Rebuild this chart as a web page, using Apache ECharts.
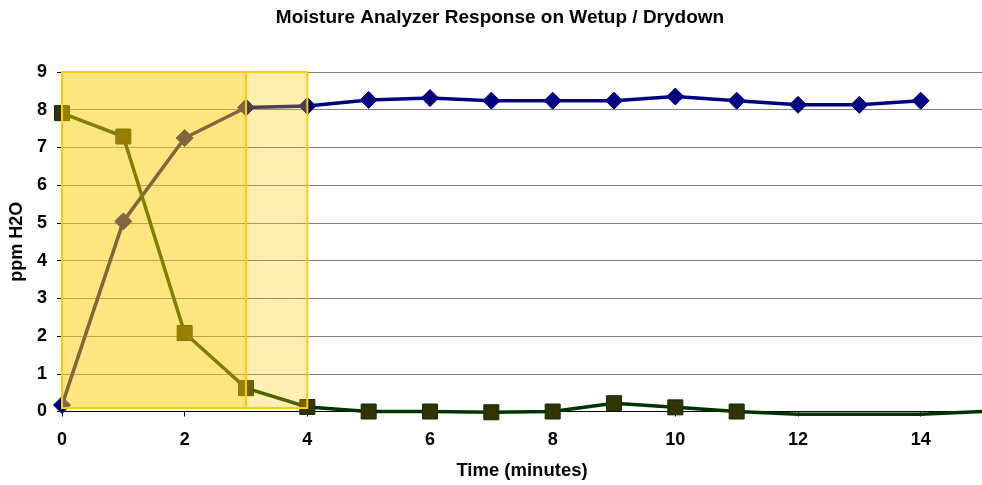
<!DOCTYPE html>
<html>
<head>
<meta charset="utf-8">
<script src="https://cdn.jsdelivr.net/npm/echarts@6/dist/echarts.min.js"></script>
<style>html,body{margin:0;padding:0;background:#fff;}#c{width:982px;height:485px;}</style>
</head>
<body>
<div id="c"></div>
<script>
const minutes = [0,1,2,3,4,5,6,7,8,9,10,11,12,13,14,15];
const wetup = [0.17,5.04,7.25,8.06,8.10,8.26,8.31,8.24,8.24,8.24,8.35,8.24,8.13,8.13,8.24,null];
const drydown = [7.91,7.29,2.08,0.62,0.12,0.00,0.00,-0.02,0.00,0.22,0.11,0.00,-0.07,-0.07,-0.07,0.00];
const drydownMarkerLast = 11; // no markers after minute 11
const shadeBands = [[0,3],[3,4]];
const shadeBottom = 0.09, shadeTop = 9.06;
const xTicks = [0,2,4,6,8,10,12,14];
const yTicks = [0,1,2,3,4,5,6,7,8,9];

const FONT = '"Liberation Sans", Arial, sans-serif';
const chart = echarts.init(document.getElementById('c'), null, {renderer:'canvas'});

const wetData = minutes.map((m,i)=> wetup[i]==null ? null : [m, wetup[i]]).filter(d=>d);
const dryData = minutes.map((m,i)=> {
  const d = {value:[m, drydown[i]]};
  if (m > drydownMarkerLast) d.symbol = 'none';
  return d;
});

chart.setOption({
  animation:false,
  graphic:[{type:'text', x:500, y:8, style:{text:'Moisture Analyzer Response on Wetup / Drydown', font:'bold 19px '+FONT, fill:'#000', textAlign:'center'}}],
  grid:{left:62, right:0, top:72, bottom:73.5, outerBoundsMode:'none', containLabel:false},
  xAxis:{type:'value', min:0, max:15, interval:2,
    name:'Time (minutes)', nameLocation:'middle', nameGap:50,
    nameTextStyle:{fontFamily:FONT, fontWeight:'bold', fontSize:18.5, color:'#000'},
    axisLine:{show:true, onZero:false, lineStyle:{color:'#000', width:1}},
    axisTick:{show:true, length:5, lineStyle:{color:'#000'}},
    axisLabel:{margin:20, fontFamily:FONT, fontWeight:'bold', fontSize:18, color:'#000',
      formatter:v=> xTicks.includes(v) ? String(v) : ''},
    splitLine:{show:false}},
  yAxis:{type:'value', min:0, max:9, interval:1,
    name:'ppm H2O', nameLocation:'middle', nameGap:33, nameRotate:90,
    nameTextStyle:{fontFamily:FONT, fontWeight:'bold', fontSize:18, color:'#000'},
    axisLine:{show:true, lineStyle:{color:'#000', width:1}},
    axisTick:{show:true, length:5, lineStyle:{color:'#000'}},
    axisLabel:{margin:15, fontFamily:FONT, fontWeight:'bold', fontSize:18, color:'#000',
      formatter:v=> yTicks.includes(v) ? String(v) : ''},
    splitLine:{show:true, lineStyle:{color:'#808080', width:1}}},
  series:[
    {type:'line', name:'Wetup', data:wetData, z:3, clip:false,
      symbol:'diamond', symbolSize:17,
      lineStyle:{color:'#000080', width:3.5},
      itemStyle:{color:'#000080', borderColor:'#000080', borderWidth:1}},
    {type:'line', name:'Drydown', data:dryData, z:3, clip:false,
      symbol:'rect', symbolSize:15,
      lineStyle:{color:'#003300', width:3.5},
      itemStyle:{color:'#333300', borderColor:'#003300', borderWidth:1}},
    {type:'line', name:'shade', data:[], z:10, clip:false, silent:true,
      markArea:{silent:true, z:20, data:[
        [{xAxis:shadeBands[0][0], yAxis:shadeBottom, itemStyle:{color:'rgba(255,204,0,0.5)', borderColor:'#FFCC00', borderWidth:2}},
         {xAxis:shadeBands[0][1], yAxis:shadeTop}],
        [{xAxis:shadeBands[1][0], yAxis:shadeBottom, itemStyle:{color:'rgba(255,204,0,0.3)', borderColor:'#FFCC00', borderWidth:2}},
         {xAxis:shadeBands[1][1], yAxis:shadeTop}]
      ]}}
  ]
});
</script>
</body>
</html>
